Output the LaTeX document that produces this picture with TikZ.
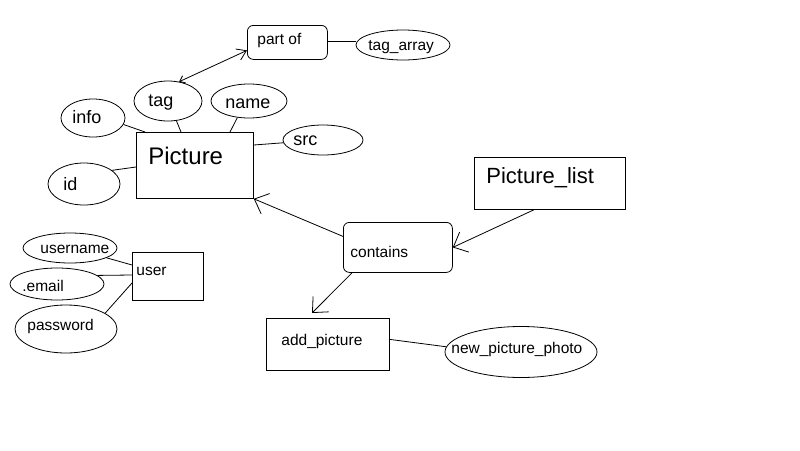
\documentclass[tikz,border=0pt]{standalone}
\usepackage{fontspec}
\setmainfont{Liberation Sans}
\usetikzlibrary{shapes.geometric,arrows.meta}
\begin{document}
\begin{tikzpicture}[x=1pt,y=-1pt,
  every path/.style={line width=0.8pt},
  boxshape/.style={draw,rectangle,inner sep=0pt,anchor=north west},
  rbox/.style={boxshape,rounded corners=6pt},
  ell/.style={draw,ellipse,inner sep=0pt},
  txt/.style={anchor=base west,inner sep=0pt},
  small/.style={txt,font=\fontsize{15.5}{18}\selectfont},
  mid/.style={txt,font=\fontsize{18}{21}\selectfont},
  big/.style={txt,font=\fontsize{22}{26}\selectfont},
  huge/.style={txt,font=\fontsize{24}{28}\selectfont},
  bigarrow/.style={-{Straight Barb[length=12pt,width=22pt]}},
  tagarrow/.style={{Straight Barb[length=5pt,width=8pt]}-{Straight Barb[length=9pt,width=12pt]}}
]
\useasboundingbox (0,0) rectangle (800,450);
% Picture entity and attributes
\node[boxshape,minimum width=117pt,minimum height=66pt] (pic) at (136,132) {};
\node[huge] (pictxt) at (148,164) {Picture};
\node[ell,minimum width=64pt,minimum height=38pt] (info) at (93,118) {};
\node[mid] (infotxt) at (72,123) {info};
\node[ell,minimum width=68pt,minimum height=40pt] (tag) at (168,101) {};
\node[mid] (tagtxt) at (148,106) {tag};
\node[ell,minimum width=76pt,minimum height=34pt] (name) at (249,101) {};
\node[mid] (nametxt) at (225,108) {name};
\node[ell,minimum width=80pt,minimum height=30pt] (src) at (323,140) {};
\node[mid] (srctxt) at (293,145) {src};
\node[ell,minimum width=72pt,minimum height=42pt] (id) at (84,184) {};
\node[mid] (idtxt) at (63,190) {id};
\draw (info.-12) -- ([xshift=9pt]pic.north west);
\draw (tag.-67) -- ([xshift=45pt]pic.north west);
\draw (name.-125) -- ([xshift=94pt]pic.north west);
\draw (src.184) -- ([yshift=-13pt]pic.north east);
\draw (id.26) -- ([yshift=-35pt]pic.north west);
% part of
\node[rbox,minimum width=80pt,minimum height=34pt] (partof) at (247,25) {};
\node[small] (partoftxt) at (257,44) {part of};
\node[ell,minimum width=94pt,minimum height=30pt] (tagarray) at (403,45) {};
\node[small] (tagarraytxt) at (368,50) {tag\_array};
\coordinate (pe) at ([yshift=1pt]partof.east);
\draw (pe) -- (tagarray.west |- pe);
\draw[tagarrow] (tag.60) -- ([yshift=-8pt]partof.west);
% Picture_list and contains
\node[boxshape,minimum width=151pt,minimum height=52pt] (plist) at (474,157) {};
\node[big] (plisttxt) at (486,183) {Picture\_list};
\node[rbox,minimum width=109pt,minimum height=50pt] (contains) at (343,222) {};
\node[small] (containstxt) at (350,257) {contains};
\draw[bigarrow] ([xshift=-16pt]plist.south) -- (contains.east);
\draw[bigarrow] ([yshift=11pt]contains.west) -- (pic.south east);
% add_picture
\node[boxshape,minimum width=123pt,minimum height=52pt] (addpic) at (266,318) {};
\node[small] (addpictxt) at (281,345) {add\_picture};
\node[ell,minimum width=152pt,minimum height=51pt] (newphoto) at (521,352) {};
\node[small] (newphototxt) at (451,353) {new\_picture\_photo};
\draw[bigarrow] ([xshift=9pt]contains.south west) -- ([xshift=46pt,yshift=5pt]addpic.north west);
\draw ([yshift=5pt]addpic.east) -- (newphoto.176);
% user
\node[boxshape,minimum width=71pt,minimum height=48pt] (user) at (132,252) {};
\node[small] (usertxt) at (136,275) {user};
\node[ell,minimum width=94pt,minimum height=30pt] (username) at (70,248) {};
\node[small] (usernametxt) at (40,253) {username};
\node[ell,minimum width=94pt,minimum height=32pt] (email) at (57,284) {};
\node[small] (emailtxt) at (22,291) {.email};
\node[ell,minimum width=102pt,minimum height=48pt] (password) at (66,329) {};
\node[small] (passwordtxt) at (27,330) {password};
\draw (username.-15) -- ([yshift=-13pt]user.north west);
\draw (email.12) -- ([yshift=-23pt]user.north west);
\draw (password.22) -- ([yshift=-31pt]user.north west);
\end{tikzpicture}
\end{document}
